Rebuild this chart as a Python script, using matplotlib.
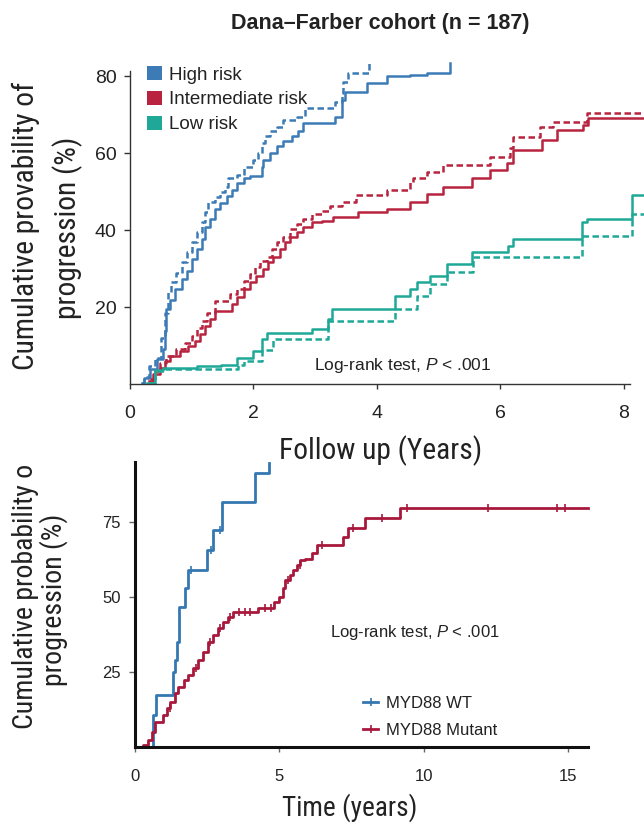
import numpy as np
import matplotlib
matplotlib.use("Agg")
import matplotlib.pyplot as plt
from matplotlib import font_manager
from matplotlib.font_manager import FontProperties
from matplotlib.patches import Patch
from matplotlib.lines import Line2D

plt.rcParams["font.family"] = ["Liberation Sans", "DejaVu Sans"]
plt.rcParams["mathtext.fontset"] = "custom"
plt.rcParams["mathtext.it"] = "Liberation Sans:italic"
plt.rcParams["mathtext.rm"] = "Liberation Sans"

TXT = "#222222"

# ---- top panel: Dana-Farber cohort, by risk group ----
high_t = [0.20, 0.22, 0.32, 0.43, 0.54, 0.57, 0.59, 0.65, 0.73, 0.84, 0.92, 1.00, 1.08,
          1.16, 1.22, 1.30, 1.38, 1.46, 1.57, 1.65, 1.73, 1.84, 1.95, 2.14, 2.16, 2.27,
          2.38, 2.48, 2.62, 2.73, 2.81, 3.32, 3.44, 3.48, 3.84, 4.16, 4.54, 4.81, 5.19]
high_y = [0.5, 1.8, 3.9, 6.5, 9.1, 14.0, 19.5, 22.0, 24.7, 27.3, 29.4, 32.5, 35.1,
          37.7, 41.0, 42.9, 45.5, 47.2, 48.9, 50.6, 52.4, 53.7, 54.2, 56.6, 58.4, 60.2,
          61.9, 63.2, 64.5, 65.8, 68.0, 69.6, 74.0, 76.0, 78.2, 80.0, 80.5, 81.0, 83.6]
high_t2 = [0.20, 0.22, 0.30, 0.41, 0.51, 0.57, 0.62, 0.67, 0.75, 0.84, 0.92, 1.00, 1.08,
           1.16, 1.22, 1.26, 1.38, 1.46, 1.54, 1.59, 1.73, 1.84, 2.00, 2.08, 2.14, 2.19,
           2.27, 2.38, 2.48, 2.70, 2.84, 3.32, 3.44, 3.46, 3.53, 3.88]
high_y2 = [0.5, 2.0, 4.7, 7.0, 12.0, 18.7, 23.9, 26.5, 29.0, 31.7, 34.3, 36.9, 39.5,
           42.1, 44.7, 47.3, 48.6, 50.1, 51.4, 53.7, 54.5, 56.6, 58.4, 60.2, 62.8, 64.5,
           65.8, 67.0, 68.8, 69.6, 71.8, 73.5, 75.8, 78.7, 80.8, 83.4]

inter_t = [0.30, 0.38, 0.49, 0.57, 0.65, 0.81, 0.94, 1.05, 1.13, 1.22, 1.30, 1.38, 1.65,
           1.73, 1.84, 1.95, 2.05, 2.16, 2.24, 2.32, 2.43, 2.51, 2.59, 2.70, 2.81, 2.95,
           3.11, 3.29, 3.70, 4.16, 4.54, 4.81, 5.07, 5.54, 5.83, 6.11, 6.21, 6.68, 6.92,
           7.34, 7.42, 8.33]
inter_y = [0.8, 2.6, 4.4, 6.0, 7.3, 8.6, 9.9, 11.2, 13.0, 15.1, 16.9, 19.0, 20.8,
           22.6, 24.7, 26.5, 28.1, 29.9, 31.7, 33.2, 35.1, 36.9, 38.2, 39.7, 41.0, 42.1,
           42.5, 43.4, 44.7, 45.7, 47.5, 49.4, 51.4, 53.7, 55.8, 57.6, 61.0, 63.6, 66.0,
           67.5, 69.3, 69.3]
inter_t2 = [0.32, 0.41, 0.49, 0.59, 0.75, 0.89, 1.00, 1.08, 1.16, 1.24, 1.38, 1.62, 1.73,
            1.84, 1.95, 2.03, 2.11, 2.22, 2.30, 2.38, 2.48, 2.59, 2.70, 2.81, 2.95, 3.11,
            3.24, 3.44, 3.67, 4.16, 4.54, 4.59, 4.81, 5.07, 5.83, 6.16, 6.21, 6.65, 6.86,
            7.40, 8.33]
inter_y2 = [1.3, 3.4, 5.7, 7.3, 9.1, 10.9, 12.5, 14.8, 16.4, 18.7, 21.6, 23.4, 24.7,
            26.8, 28.6, 30.4, 32.0, 33.2, 35.1, 36.9, 38.4, 40.3, 41.6, 42.9, 44.2, 45.0,
            46.3, 47.5, 49.3, 50.6, 52.7, 53.7, 55.3, 57.1, 59.2, 61.5, 64.4, 66.8, 68.3,
            70.6, 70.6]

low_t = [0.28, 0.40, 0.53, 1.08, 1.48, 1.73, 2.00, 2.14, 2.22, 2.95, 3.21, 3.27, 4.30,
         4.54, 4.65, 4.86, 5.13, 5.54, 6.13, 6.21, 7.32, 7.40, 8.13, 8.33]
low_y = [0.3, 3.8, 4.4, 4.7, 5.0, 7.0, 8.6, 11.7, 13.5, 14.3, 16.9, 19.7, 22.9,
         24.7, 26.5, 28.3, 31.2, 34.3, 36.1, 37.7, 42.1, 42.9, 49.1, 49.1]
low_t2 = [0.30, 0.40, 0.55, 1.75, 1.85, 2.14, 2.32, 3.21, 4.30, 4.65, 4.86, 5.13, 5.56,
          7.32, 8.13, 8.33]
low_y2 = [0.3, 3.5, 4.0, 5.0, 6.0, 9.0, 11.7, 16.4, 19.7, 22.9, 26.0, 29.1, 33.2,
          38.7, 44.4, 44.4]

risk_labels = ["High risk", "Intermediate risk", "Low risk"]
risk_colors = ["#3c7bb5", "#b8243f", "#1fa898"]

# ---- bottom panel: MYD88 status ----
wt_t = [0.0, 0.62, 0.73, 1.32, 1.38, 1.45, 1.52, 1.73, 1.84, 2.49, 2.70, 3.00, 4.16, 4.64]
wt_y = [0.0, 10.7, 17.3, 25.0, 29.0, 35.0, 46.7, 53.0, 59.0, 65.7, 72.3, 81.7, 91.3, 94.7]
wt_cens = [1.95, 2.62, 2.95]

mut_t = [0.0, 0.29, 0.45, 0.58, 0.69, 0.98, 1.10, 1.21, 1.38, 1.50, 1.68, 1.84, 2.01,
         2.19, 2.36, 2.53, 2.71, 2.88, 3.05, 3.23, 3.40, 4.27, 4.83, 5.00, 5.12, 5.20,
         5.37, 5.47, 5.60, 5.72, 5.89, 6.12, 6.30, 7.20, 7.38, 7.97, 9.18, 15.7]
mut_y = [0.0, 0.7, 2.3, 5.0, 8.3, 10.6, 12.9, 15.1, 17.9, 20.0, 22.2, 23.9, 26.2,
         29.0, 31.6, 35.0, 37.2, 39.6, 41.7, 43.4, 45.0, 46.3, 48.3, 50.0, 53.0, 55.7,
         57.3, 59.0, 60.7, 62.3, 62.8, 64.6, 67.3, 70.0, 72.9, 76.3, 79.6, 79.6]
mut_cens = [1.2, 2.1, 2.6, 2.95, 3.3, 3.6, 3.8, 4.0, 4.5, 4.7, 5.3, 5.7, 6.48, 7.55,
            8.55, 9.42, 12.23, 14.62, 14.9]

myd_labels = ["MYD88 WT", "MYD88 Mutant"]
myd_colors = ["#3478b2", "#a8183c"]


def step_value(t, y, x):
    i = np.searchsorted(t, x, side="right") - 1
    return np.asarray(y)[i]


def narrow_font():
    # use a condensed face if one is installed, else plain Liberation Sans
    pref = ["Liberation Sans Narrow", "Roboto Condensed", "Open Sans Condensed",
            "Noto Sans", "DejaVu Sans", "Open Sans", "Roboto"]
    found = []
    for f in font_manager.fontManager.ttflist:
        st = str(f.stretch)
        if f.style != "normal" or f.weight not in (400, "normal", "regular"):
            continue
        if "condensed" in st or "Narrow" in f.name or "Condensed" in f.name:
            if f.name in pref:
                found.append((pref.index(f.name), f.name, st))
    if found:
        found.sort()
        return FontProperties(family=found[0][1], stretch=found[0][2])
    return FontProperties(family="Liberation Sans")


def fit_text(t, width_px):
    # shrink/grow the font so the string spans the width seen in the picture
    r = fig.canvas.get_renderer()
    bb = t.get_window_extent(r)
    w = bb.height if t.get_rotation() == 90 else bb.width
    t.set_fontsize(t.get_fontsize() * width_px / w)
    return t.get_fontsize()


fig = plt.figure(figsize=(6.44, 8.27), dpi=100)
W, H = 644.0, 827.0
NF = narrow_font()

# top axes
ax1 = fig.add_axes([130 / W, 1 - 384.5 / H, 514 / W, 86 * 3.85 / H])
ax1.set_xlim(0, 514 / 61.7)
ax1.set_ylim(0, 86)
for t, y, c, ls in [
    (high_t, high_y, risk_colors[0], "-"),
    (high_t2, high_y2, risk_colors[0], (0, (2.6, 1.4))),
    (inter_t, inter_y, risk_colors[1], "-"),
    (inter_t2, inter_y2, risk_colors[1], (0, (2.6, 1.4))),
    (low_t, low_y, risk_colors[2], "-"),
    (low_t2, low_y2, risk_colors[2], (0, (2.6, 1.4))),
]:
    ax1.step(t, y, where="post", color=c, lw=1.8, ls=ls, clip_on=False)

for s in ["top", "right"]:
    ax1.spines[s].set_visible(False)
for s in ["left", "bottom"]:
    ax1.spines[s].set_linewidth(1.0)
    ax1.spines[s].set_color("#333333")
ax1.spines["left"].set_bounds(0, 81.5)
ax1.spines["bottom"].set_bounds(0, 8.1)
ax1.set_xticks([0, 2, 4, 6, 8])
ax1.set_yticks([20, 40, 60, 80])
ax1.tick_params(axis="y", direction="out", length=4.3, width=1.0, color="#333333",
                pad=5.5, labelsize=14, labelcolor=TXT)
ax1.tick_params(axis="x", direction="out", length=3.6, width=1.0, color="#333333",
                pad=11, labelsize=14, labelcolor=TXT)
ax1.text(2.98, 4.9, r"Log-rank test, $P$ < .001", fontsize=12.5, color=TXT,
         ha="left", va="center")

handles = [Patch(facecolor=c, edgecolor="none") for c in risk_colors]
fig.legend(handles, risk_labels, loc="upper left",
           bbox_to_anchor=(147 / W, 1 - 66 / H), bbox_transform=fig.transFigure,
           frameon=False, borderpad=0, borderaxespad=0, handlelength=0.8,
           handleheight=0.8, handletextpad=0.35, labelspacing=0.38,
           fontsize=13.5, labelcolor=TXT)

# bottom axes
ax2 = fig.add_axes([135 / W, 1 - 747 / H, 453 / W, 95 * 3.0 / H])
ax2.set_xlim(0, 453 / 28.87)
ax2.set_ylim(0, 95)
for t, y, cens, c in [(wt_t, wt_y, wt_cens, myd_colors[0]),
                      (mut_t, mut_y, mut_cens, myd_colors[1])]:
    ax2.step(t, y, where="post", color=c, lw=2.0, clip_on=False)
    ax2.plot(cens, step_value(t, y, cens), ls="none", marker="|", ms=6, mew=1.2,
             color=c, clip_on=False)

for s in ["top", "right"]:
    ax2.spines[s].set_visible(False)
for s in ["left", "bottom"]:
    ax2.spines[s].set_linewidth(2.2)
    ax2.spines[s].set_color("#111111")
ax2.set_xticks([0, 5, 10, 15])
ax2.set_yticks([25, 50, 75])
ax2.tick_params(axis="y", direction="out", length=4.3, width=1.0, color="#666666",
                pad=6, labelsize=12, labelcolor=TXT)
ax2.tick_params(axis="x", direction="out", length=3.6, width=1.0, color="#666666",
                pad=12, labelsize=12, labelcolor=TXT)
ax2.text(6.75, 38, r"Log-rank test, $P$ < .001", fontsize=12, color=TXT,
         ha="left", va="center")

handles2 = [Line2D([], [], color=c, lw=2.0, marker="|", ms=6, mew=1.2) for c in myd_colors]
fig.legend(handles2, myd_labels, loc="upper left",
           bbox_to_anchor=(363 / W, 1 - 696 / H), bbox_transform=fig.transFigure,
           frameon=False, borderpad=0, borderaxespad=0, handlelength=0.9,
           handletextpad=0.5, labelspacing=0.72, fontsize=12, labelcolor=TXT)

# texts
fig.text(380 / W, 1 - 23 / H, "Dana\u2013Farber cohort (n = 187)", fontsize=15.5,
         fontweight="bold", ha="center", va="center", color=TXT)

yl1 = fig.text(26 / W, 1 - 226 / H, "Cumulative provability of", fontproperties=NF,
               fontsize=20, rotation=90, ha="center", va="center", color=TXT)
fs = fit_text(yl1, 288)
fig.text(68 / W, 1 - 228 / H, "progression (%)", fontproperties=NF, fontsize=fs,
         rotation=90, ha="center", va="center", color=TXT)

xl1 = fig.text(381 / W, 1 - 451 / H, "Follow up (Years)", fontproperties=NF,
               fontsize=20, ha="center", va="center", color=TXT)
fit_text(xl1, 203)

yl2 = fig.text(26 / W, 1 - 596 / H, "Cumulative probability o", fontproperties=NF,
               fontsize=20, rotation=90, ha="center", va="center", color=TXT)
fs2 = fit_text(yl2, 265)
fig.text(54 / W, 1 - 600 / H, "progression (%)", fontproperties=NF, fontsize=fs2,
         rotation=90, ha="center", va="center", color=TXT)

xl2 = fig.text(350 / W, 1 - 808 / H, "Time (years)", fontproperties=NF, fontsize=20,
               ha="center", va="center", color=TXT)
fit_text(xl2, 135)

fig.savefig("out.png", dpi=100)
